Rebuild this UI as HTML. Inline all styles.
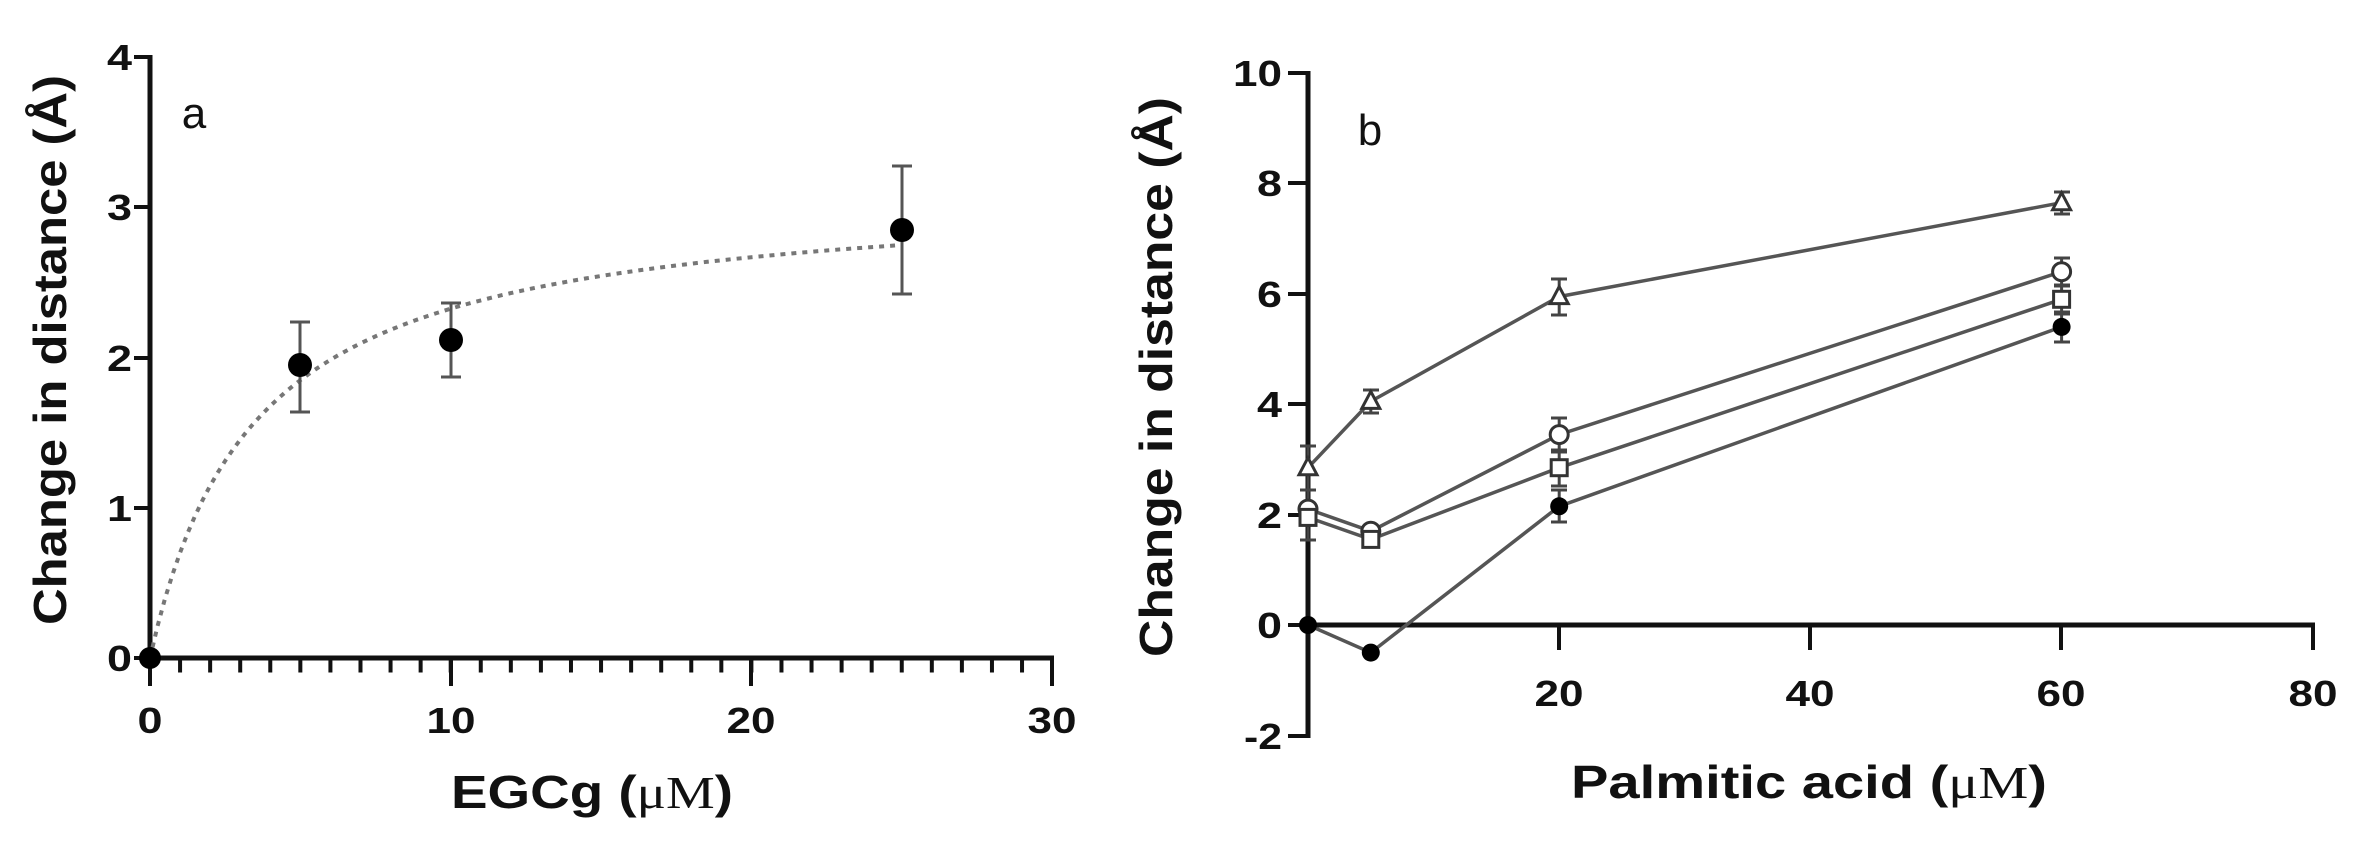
<!DOCTYPE html>
<html><head><meta charset="utf-8"><style>
html,body{margin:0;padding:0;background:#fff;}
svg{display:block;}
text{font-family:"Liberation Sans",Arial,sans-serif;font-weight:bold;fill:#111;}
</style></head><body>
<svg width="2357" height="841" viewBox="0 0 2357 841" xmlns="http://www.w3.org/2000/svg">
<!-- Panel a -->
<line x1="150" y1="55" x2="150" y2="660" stroke="#111" stroke-width="5"/>
<line x1="148" y1="658" x2="1054" y2="658" stroke="#111" stroke-width="5"/>
<g stroke="#111" stroke-width="4">
  <line x1="134" y1="658" x2="150" y2="658"/>
  <line x1="134" y1="508" x2="150" y2="508"/>
  <line x1="134" y1="358" x2="150" y2="358"/>
  <line x1="134" y1="207" x2="150" y2="207"/>
  <line x1="134" y1="57" x2="150" y2="57"/>
  <line x1="148" y1="665" x2="1054" y2="665" stroke-width="15" stroke-dasharray="4 26.07"/>
  <line x1="150" y1="658" x2="150" y2="686"/>
  <line x1="451" y1="658" x2="451" y2="686"/>
  <line x1="751" y1="658" x2="751" y2="686"/>
  <line x1="1052" y1="658" x2="1052" y2="686"/>
</g>
<g font-size="36" text-anchor="end">
  <text x="132" y="671" textLength="25" lengthAdjust="spacingAndGlyphs">0</text>
  <text x="132" y="521" textLength="25" lengthAdjust="spacingAndGlyphs">1</text>
  <text x="132" y="371" textLength="25" lengthAdjust="spacingAndGlyphs">2</text>
  <text x="132" y="220" textLength="25" lengthAdjust="spacingAndGlyphs">3</text>
  <text x="132" y="70" textLength="25" lengthAdjust="spacingAndGlyphs">4</text>
</g>
<g font-size="36" text-anchor="middle">
  <text x="150" y="733" textLength="25" lengthAdjust="spacingAndGlyphs">0</text>
  <text x="451" y="733" textLength="49" lengthAdjust="spacingAndGlyphs">10</text>
  <text x="751" y="733" textLength="49" lengthAdjust="spacingAndGlyphs">20</text>
  <text x="1052" y="733" textLength="49" lengthAdjust="spacingAndGlyphs">30</text>
</g>
<text x="194" y="128" font-size="44" style="font-weight:normal" text-anchor="middle">a</text>
<text x="592" y="808" font-size="46" text-anchor="middle" textLength="282" lengthAdjust="spacingAndGlyphs">EGCg (<tspan font-family="Liberation Serif" style="font-weight:normal">μM</tspan>)</text>
<text transform="translate(66,350) rotate(-90)" font-size="46" text-anchor="middle" textLength="550" lengthAdjust="spacingAndGlyphs">Change in distance (Å)</text>
<path id="curve" fill="none" stroke="#777" stroke-width="4" stroke-dasharray="5,6"/>
<g stroke="#555" stroke-width="3">
  <line x1="300" y1="322" x2="300" y2="412"/><line x1="290" y1="322" x2="310" y2="322"/><line x1="290" y1="412" x2="310" y2="412"/>
  <line x1="451" y1="303" x2="451" y2="377"/><line x1="441" y1="303" x2="461" y2="303"/><line x1="441" y1="377" x2="461" y2="377"/>
  <line x1="902" y1="166" x2="902" y2="294"/><line x1="892" y1="166" x2="912" y2="166"/><line x1="892" y1="294" x2="912" y2="294"/>
</g>
<g fill="#000">
  <circle cx="150" cy="658" r="11"/>
  <circle cx="300" cy="365" r="12"/>
  <circle cx="451" cy="340" r="12"/>
  <circle cx="902" cy="230" r="12"/>
</g>

<!-- Panel b -->
<line x1="1308" y1="71" x2="1308" y2="738" stroke="#111" stroke-width="5"/>
<line x1="1306" y1="625" x2="2315" y2="625" stroke="#111" stroke-width="5"/>
<g stroke="#111" stroke-width="4">
  <line x1="1288" y1="736" x2="1308" y2="736"/>
  <line x1="1288" y1="625" x2="1308" y2="625"/>
  <line x1="1288" y1="515" x2="1308" y2="515"/>
  <line x1="1288" y1="404" x2="1308" y2="404"/>
  <line x1="1288" y1="294" x2="1308" y2="294"/>
  <line x1="1288" y1="183" x2="1308" y2="183"/>
  <line x1="1288" y1="73" x2="1308" y2="73"/>
  <line x1="1559" y1="625" x2="1559" y2="650"/>
  <line x1="1810" y1="625" x2="1810" y2="650"/>
  <line x1="2061" y1="625" x2="2061" y2="650"/>
  <line x1="2313" y1="625" x2="2313" y2="650"/>
</g>
<g font-size="36" text-anchor="end">
  <text x="1282" y="749" textLength="38" lengthAdjust="spacingAndGlyphs">-2</text>
  <text x="1282" y="638" textLength="25" lengthAdjust="spacingAndGlyphs">0</text>
  <text x="1282" y="528" textLength="25" lengthAdjust="spacingAndGlyphs">2</text>
  <text x="1282" y="417" textLength="25" lengthAdjust="spacingAndGlyphs">4</text>
  <text x="1282" y="307" textLength="25" lengthAdjust="spacingAndGlyphs">6</text>
  <text x="1282" y="196" textLength="25" lengthAdjust="spacingAndGlyphs">8</text>
  <text x="1282" y="86" textLength="49" lengthAdjust="spacingAndGlyphs">10</text>
</g>
<g font-size="36" text-anchor="middle">
  <text x="1559" y="706" textLength="49" lengthAdjust="spacingAndGlyphs">20</text>
  <text x="1810" y="706" textLength="49" lengthAdjust="spacingAndGlyphs">40</text>
  <text x="2061" y="706" textLength="49" lengthAdjust="spacingAndGlyphs">60</text>
  <text x="2313" y="706" textLength="49" lengthAdjust="spacingAndGlyphs">80</text>
</g>
<text x="1370" y="145" font-size="44" style="font-weight:normal" text-anchor="middle">b</text>
<text x="1809" y="798" font-size="46" text-anchor="middle" textLength="476" lengthAdjust="spacingAndGlyphs">Palmitic acid (<tspan font-family="Liberation Serif" style="font-weight:normal">μM</tspan>)</text>
<text transform="translate(1172,377) rotate(-90)" font-size="46" text-anchor="middle" textLength="560" lengthAdjust="spacingAndGlyphs">Change in distance (Å)</text>

<g fill="none" stroke="#555" stroke-width="3.5">
  <polyline points="1308,467.7 1370.8,401.4 1559.2,296.6 2061.6,202.7"/>
  <polyline points="1308,509.1 1370.8,531.2 1559.2,434.6 2061.6,271.7"/>
  <polyline points="1308,517.4 1370.8,539.4 1559.2,467.7 2061.6,299.3"/>
  <polyline points="1308,625 1370.8,652.6 1559.2,506.3 2061.6,326.9"/>
</g>
<g stroke="#444" stroke-width="3">
  <path d="M1308 446V490M1300 446h16M1300 490h16"/>
  <path d="M1370.8 390V413M1363 390h16M1363 413h16"/>
  <path d="M1559.2 279V315M1551 279h16M1551 315h16"/>
  <path d="M2061.6 192V214M2054 192h16M2054 214h16"/>
  <path d="M1559.2 418V452M1551 418h16M1551 452h16"/>
  <path d="M2061.6 258V286M2054 258h16M2054 286h16"/>
  <path d="M1559.2 450V486M1551 450h16M1551 486h16"/>
  <path d="M2061.6 285V314M2054 285h16M2054 314h16"/>
  <path d="M1559.2 490V522M1551 490h16M1551 522h16"/>
  <path d="M2061.6 312V342M2054 312h16M2054 342h16"/>
  <path d="M1308 490V540M1300 490h16M1300 540h16"/>
</g>
<g fill="#fff" stroke="#333" stroke-width="3">
  <polygon points="1308,457.7 1299,474.7 1317,474.7"/>
  <polygon points="1370.8,391.4 1361.8,408.4 1379.8,408.4"/>
  <polygon points="1559.2,286.6 1550.2,303.6 1568.2,303.6"/>
  <polygon points="2061.6,192.7 2052.6,209.7 2070.6,209.7"/>
  <circle cx="1308" cy="509.1" r="9"/>
  <circle cx="1370.8" cy="531.2" r="9"/>
  <circle cx="1559.2" cy="434.6" r="9"/>
  <circle cx="2061.6" cy="271.7" r="9"/>
  <rect x="1300" y="509.4" width="16" height="16"/>
  <rect x="1362.8" y="531.4" width="16" height="16"/>
  <rect x="1551.2" y="459.7" width="16" height="16"/>
  <rect x="2053.6" y="291.3" width="16" height="16"/>
</g>
<g fill="#000">
  <circle cx="1308" cy="625" r="9"/>
  <circle cx="1370.8" cy="652.6" r="9"/>
  <circle cx="1559.2" cy="506.3" r="9"/>
  <circle cx="2061.6" cy="326.9" r="9"/>
</g>
<script>
(function(){
  var d='';
  for(var i=0;i<=100;i++){var xv=i*0.25;var yv=3.13*xv/(3.46+xv);
    d+=(i?'L':'M')+(150+xv*30.07).toFixed(1)+' '+(658-yv*150.2).toFixed(1);}
  document.getElementById('curve').setAttribute('d',d);
})();
</script>
</svg>
</body></html>
